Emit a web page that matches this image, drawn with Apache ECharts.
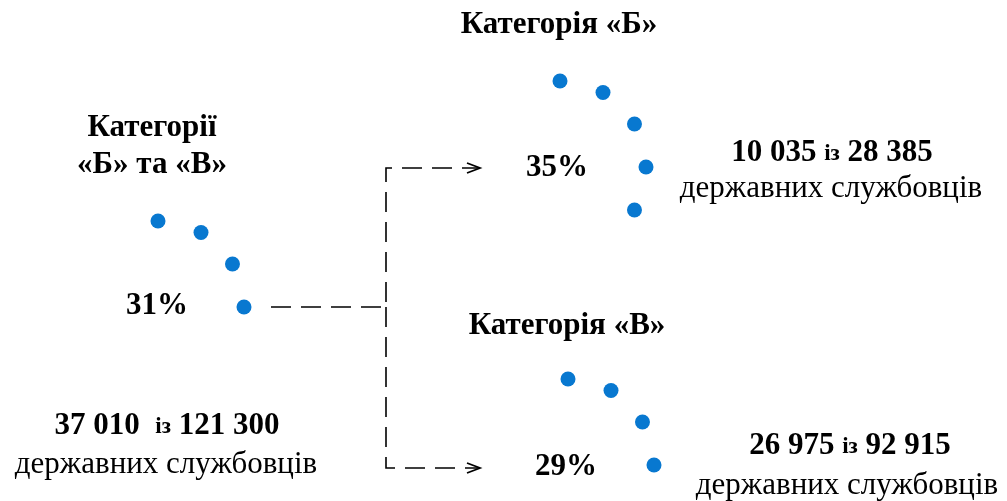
<!DOCTYPE html>
<html>
<head>
<meta charset="utf-8">
<script src="https://cdn.jsdelivr.net/npm/echarts@6/dist/echarts.min.js"></script>
<style>
  html, body { margin: 0; padding: 0; background: #fff; }
  #chart { width: 1007px; height: 501px; }
</style>
</head>
<body>
<div id="chart"></div>
<script>
// categories and values
const groups = ["Категорії\n«Б» та «В»", "Категорія «Б»", "Категорія «В»"];
const shares = [31, 35, 29];
const counts = [37010, 10035, 26975];
const totals = [121300, 28385, 92915];
const caption = "державних службовців";
// dot positions on each ring, degrees clockwise from 12 o'clock
const dotAngles = [
  [0, 30, 60, 90],
  [0, 30, 60, 90, 120],
  [0, 30, 60, 90]
];

const centers = [[158, 307], [560, 167], [568, 465]];
const titlePos = [[152, 146], [559, 25], [567, 326]];
const pctPos = [[157, 306], [557, 168], [566, 467]];
const numPos = [[167, 423], [832, 150], [850, 443]];
const capPos = [[166, 465], [831, 189], [847, 486]];

const fmt = n => String(n).replace(/\B(?=(\d{3})+(?!\d))/g, " ");
const serif = "'Liberation Serif', 'DejaVu Serif', serif";

const chart = echarts.init(document.getElementById("chart"));

const polar = centers.map(c => ({ center: c, radius: 86 }));
const angleAxis = centers.map((c, i) => ({
  polarIndex: i, type: "value", min: 0, max: 360, startAngle: 90, clockwise: true, show: false
}));
const radiusAxis = centers.map((c, i) => ({
  polarIndex: i, type: "value", min: 0, max: 1, show: false
}));
const series = dotAngles.map((arr, i) => ({
  type: "scatter",
  coordinateSystem: "polar",
  polarIndex: i,
  symbolSize: 15,
  itemStyle: { color: "#0878d0", opacity: 1 },
  data: arr.map(a => [1, a]),
  silent: true
}));

const graphic = [];
groups.forEach((g, i) => {
  graphic.push({
    type: "text", x: titlePos[i][0], y: titlePos[i][1],
    style: { text: g, align: "center", verticalAlign: "middle", font: "bold 31px " + serif, lineHeight: 37, fill: "#000" }
  });
  graphic.push({
    type: "text", x: pctPos[i][0], y: pctPos[i][1],
    style: { text: shares[i] + "%", align: "center", verticalAlign: "middle", font: "bold 31px " + serif, fill: "#000" }
  });
  graphic.push({
    type: "text", x: numPos[i][0], y: numPos[i][1],
    style: {
      text: "{b|" + fmt(counts[i]) + (i === 0 ? "  " : " ") + "}{s|із}{b| " + fmt(totals[i]) + "}",
      align: "center", verticalAlign: "middle", fill: "#000",
      rich: {
        b: { font: "bold 31px " + serif, lineHeight: 36, verticalAlign: "bottom" },
        s: { font: "bold 23px " + serif, lineHeight: 28, verticalAlign: "bottom", padding: [0, 0, 2, 0] }
      }
    }
  });
  graphic.push({
    type: "text", x: capPos[i][0], y: capPos[i][1],
    style: { text: caption, align: "center", verticalAlign: "middle", font: "31px " + serif, fill: "#000" }
  });
});

// dashed connectors
const dash = { stroke: "#000", lineWidth: 1.6, lineDash: [20, 10], fill: null };
graphic.push({ type: "polyline", shape: { points: [[271, 307], [386, 307], [386, 168], [480, 168]] }, style: dash });
graphic.push({ type: "polyline", shape: { points: [[386, 307], [386, 468], [480, 468]] }, style: dash });
[168, 468].forEach(y => {
  graphic.push({ type: "polyline", shape: { points: [[467, y - 5], [480, y], [467, y + 5]] }, style: { stroke: "#000", lineWidth: 1.8, fill: null } });
});

chart.setOption({
  animation: false,
  polar: polar,
  angleAxis: angleAxis,
  radiusAxis: radiusAxis,
  series: series,
  graphic: graphic
});
</script>
</body>
</html>
